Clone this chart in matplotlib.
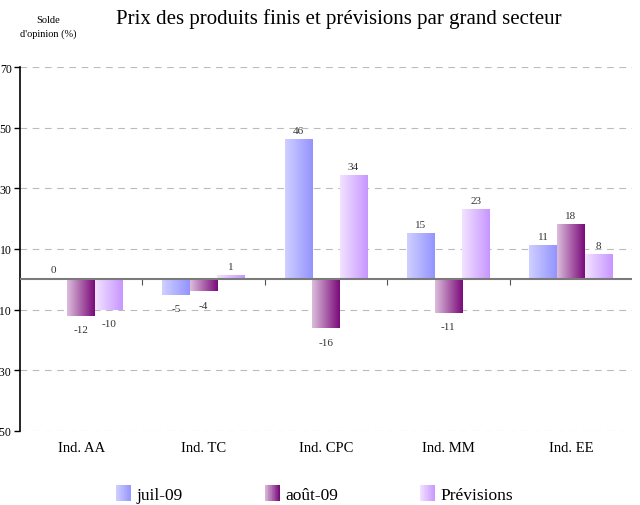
import numpy as np
import matplotlib.pyplot as plt
from matplotlib.colors import LinearSegmentedColormap
from matplotlib.legend_handler import HandlerBase
from matplotlib.patches import Rectangle

plt.rcParams['font.family'] = ['Liberation Serif', 'DejaVu Serif']

categories = ["Ind. AA", "Ind. TC", "Ind. CPC", "Ind. MM", "Ind. EE"]
series_names = ["juil-09", "août-09", "Prévisions"]
juil = [0, -5, 46, 15, 11]
aout = [-12, -4, -16, -11, 18]
prev = [-10, 1, 34, 23, 8]
yticks = [-50, -30, -10, 10, 30, 50, 70]

# gradient colours left -> right
grads = [("#cfcfff", "#9494ff"), ("#dcbddc", "#7a0a7a"), ("#f2e2ff", "#c896ff")]


class GradientHandler(HandlerBase):
    def __init__(self, c0, c1):
        super().__init__()
        self.cmap = LinearSegmentedColormap.from_list("g", [c0, c1])

    def create_artists(self, legend, orig_handle, xdescent, ydescent,
                       width, height, fontsize, trans):
        n = 20
        w = height
        x0 = -xdescent + (width - w)
        arts = []
        for i in range(n):
            arts.append(Rectangle((x0 + i * w / n, -ydescent), w / n + 0.05, height,
                                  facecolor=self.cmap(i / (n - 1)), edgecolor='none',
                                  transform=trans))
        return arts


fig = plt.figure(figsize=(6.4, 5.06), dpi=100)
ax = fig.add_axes([20 / 640, 74 / 506, 612 / 640, 364 / 506])
ax.set_xlim(-0.5, 4.5)
ax.set_ylim(-50, 70)

x = np.arange(len(categories))
width = 0.225
grad = np.linspace(0, 1, 64).reshape(1, -1)

for k, vals in enumerate([juil, aout, prev]):
    cmap = LinearSegmentedColormap.from_list("g%d" % k, grads[k])
    bars = ax.bar(x + (k - 1) * width, vals, width, facecolor='none',
                  edgecolor='none', zorder=3)
    for b, v in zip(bars, vals):
        bx, by = b.get_x(), b.get_y()
        bw, bh = b.get_width(), b.get_height()
        if bh != 0:
            ax.imshow(grad, cmap=cmap, extent=(bx, bx + bw, min(by, by + bh), max(by, by + bh)),
                      aspect='auto', zorder=3, interpolation='bilinear')
        off = 1.6 if v >= 0 else -3.2
        ax.text(bx + bw / 2, v + off, str(v), ha='center', va='bottom' if v >= 0 else 'top',
                fontsize=8, color='#333333', zorder=5)

ax.set_xlim(-0.5, 4.5)
ax.set_ylim(-50, 70)

# grid and axes
ax.set_yticks(yticks)
ax.set_yticklabels([str(t) for t in yticks], fontsize=8.5)
ax.yaxis.grid(True, linestyle=(0, (6, 5)), color='#bbbbbb', linewidth=0.8)
ax.set_axisbelow(True)
ax.tick_params(axis='y', length=4, width=1, color='black', pad=2)
for s in ['top', 'right', 'bottom']:
    ax.spines[s].set_visible(False)
ax.spines['left'].set_linewidth(1.2)

ax.set_xticks(x)
ax.set_xticklabels(categories, fontsize=10.5)
ax.tick_params(axis='x', length=0, pad=7)

ax.axhline(0, color='#7a7a7a', linewidth=1.5, zorder=4)
sec = ax.secondary_xaxis(50 / 120)
sec.set_xticks(np.arange(0.5, 4.5, 1))
sec.set_xticklabels([])
sec.tick_params(axis='x', direction='out', length=4, color='#555555')
sec.spines['bottom'].set_visible(False)
sec.spines['top'].set_visible(False)

fig.text(0.53, 0.962, "Prix des produits finis et prévisions par grand secteur",
         ha='center', va='center', fontsize=15)
fig.text(0.075, 0.945, "Solde\nd'opinion (%)", ha='center', va='center',
         fontsize=7.5, linespacing=1.6)

handles = [Rectangle((0, 0), 1, 1) for _ in series_names]
hmap = {h: GradientHandler(*g) for h, g in zip(handles, grads)}
fig.legend(handles, series_names, handler_map=hmap, ncol=3, loc='center',
           bbox_to_anchor=(0.49, 0.022), frameon=False, fontsize=12.5,
           columnspacing=4.6, handlelength=1.0, handleheight=1.0, handletextpad=0.3)

fig.savefig("out.png", dpi=100)
